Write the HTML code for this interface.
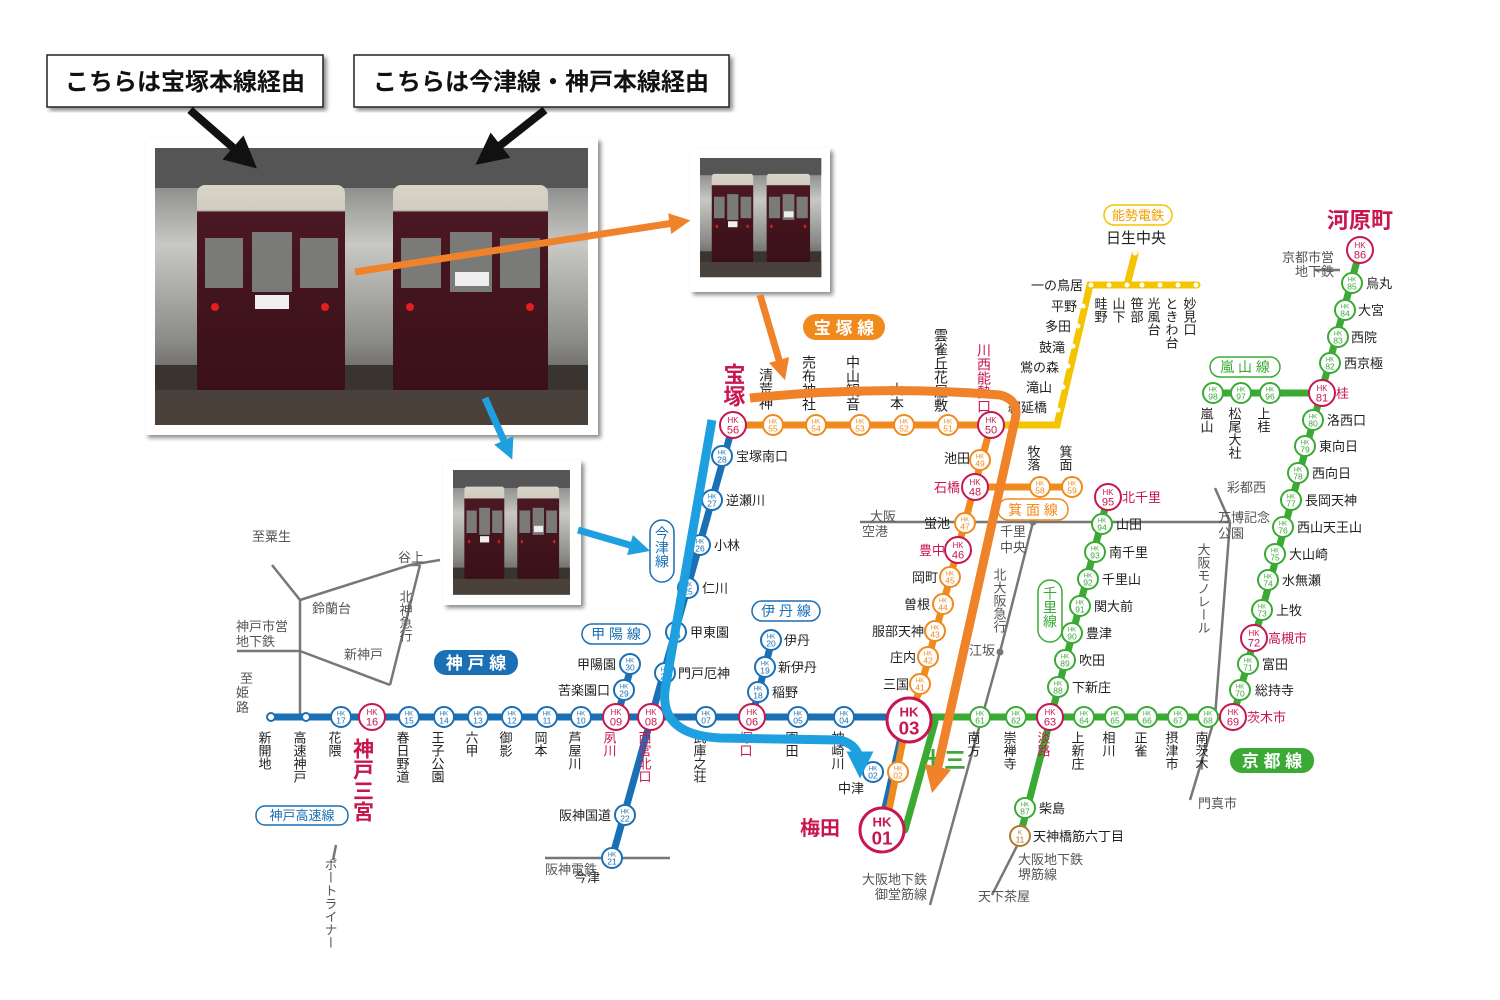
<!DOCTYPE html>
<html><head><meta charset="utf-8"><style>
html,body{margin:0;padding:0;background:#fff;width:1500px;height:1000px;overflow:hidden}
svg{display:block;font-family:"Liberation Sans","Noto Sans CJK JP",sans-serif}
.v{writing-mode:vertical-rl;text-orientation:upright}
</style></head><body>
<svg id="m" width="1500" height="1000" viewBox="0 0 1500 1000" xmlns="http://www.w3.org/2000/svg">
<defs>
<marker id="ab" markerWidth="4" markerHeight="4" refX="2" refY="2" orient="auto"><path d="M0,0L4,2L0,4z" fill="#111"/></marker>
<marker id="ao" markerWidth="3" markerHeight="3" refX="1.5" refY="1.5" orient="auto"><path d="M0,0L3,1.5L0,3z" fill="#f0822a"/></marker>
<marker id="ac" markerWidth="3" markerHeight="3" refX="1.5" refY="1.5" orient="auto"><path d="M0,0L3,1.5L0,3z" fill="#1ea0e0"/></marker>
<linearGradient id="bg" x1="0" y1="0" x2="0" y2="1"><stop offset="0" stop-color="#6a6a6a"/><stop offset=".35" stop-color="#c8c8c4"/><stop offset=".7" stop-color="#8a8a86"/><stop offset="1" stop-color="#3a3834"/></linearGradient>
<linearGradient id="tr" x1="0" y1="0" x2="0" y2="1"><stop offset="0" stop-color="#d8d4c8"/><stop offset=".12" stop-color="#d0ccc0"/><stop offset=".13" stop-color="#4a1822"/><stop offset="1" stop-color="#3a1018"/></linearGradient>
<filter id="sh"><feDropShadow dx="3" dy="3" stdDeviation="2" flood-opacity=".45"/></filter>
</defs>

<!-- label boxes -->
<rect x="47" y="55" width="276" height="52" fill="#fff" stroke="#222" stroke-width="1.5" filter="url(#sh)"/>
<text x="185" y="90" font-size="24" font-weight="bold" text-anchor="middle" fill="#111">こちらは宝塚本線経由</text>
<rect x="354" y="55" width="375" height="52" fill="#fff" stroke="#222" stroke-width="1.5" filter="url(#sh)"/>
<text x="541" y="90" font-size="24" font-weight="bold" text-anchor="middle" fill="#111">こちらは今津線・神戸本線経由</text>

<!-- gray lines -->
<g stroke="#777" stroke-width="2.5" fill="none">
<path d="M272,565L300,600L300,717"/><path d="M237,651L300,651"/><path d="M300,600L410,565L440,560"/>
<path d="M300,651L390,685"/><path d="M390,685L420,565"/><path d="M410,565L420,565"/>
<path d="M860,522L990,522L1230,522"/><path d="M1230,522L1215,717L1190,800"/><path d="M1215,488L1230,522"/>
<path d="M1033,522L1000,652L930,905"/>
<path d="M1020,840L992,895"/><path d="M1315,270L1340,270"/><path d="M336,845L333,860"/>
<path d="M545,858L670,858"/>
</g>
<circle cx="1033" cy="522" r="3.5" fill="#777"/><circle cx="1000" cy="652" r="3.5" fill="#777"/>

<!-- lines -->
<g fill="none" stroke-linecap="round">
<path d="M270,717L885,717" stroke="#1a6fb5" stroke-width="7"/>
<path d="M733,425L612,858" stroke="#1a6fb5" stroke-width="7"/>
<path d="M632,664L617,717" stroke="#1a6fb5" stroke-width="7"/>
<path d="M772,640L752,717" stroke="#1a6fb5" stroke-width="7"/>
<path d="M905,720L880,830" stroke="#1a6fb5" stroke-width="7"/>
<path d="M733,425L991,425L920,690L907,720L885,830" stroke="#f08a1c" stroke-width="7"/>
<path d="M975,487L1072,487" stroke="#f08a1c" stroke-width="7"/>
<path d="M910,717L1233,717L1360,250" stroke="#3aaa35" stroke-width="7"/>
<path d="M905,830L935,722" stroke="#3aaa35" stroke-width="7"/>
<path d="M1210,393L1322,393" stroke="#3aaa35" stroke-width="7"/>
<path d="M1108,497L1020,836" stroke="#3aaa35" stroke-width="7"/>
<path d="M995,425L1057,425L1090,285L1197,285M1127,285L1135,254" stroke="#f5c400" stroke-width="7"/>
</g>
<g fill="#fff">
<circle cx="1058" cy="410" r="2.5"/><circle cx="1063" cy="387" r="2.5"/><circle cx="1068" cy="366" r="2.5"/><circle cx="1073" cy="346" r="2.5"/><circle cx="1078" cy="326" r="2.5"/><circle cx="1083" cy="306" r="2.5"/>
<circle cx="1091" cy="285" r="2.5"/><circle cx="1109" cy="285" r="2.5"/><circle cx="1127" cy="285" r="2.5"/><circle cx="1142" cy="285" r="2.5"/><circle cx="1160" cy="285" r="2.5"/><circle cx="1178" cy="285" r="2.5"/><circle cx="1196" cy="285" r="2.5"/><circle cx="1135" cy="253" r="2.5"/>
</g>

<!-- line labels -->
<rect x="803" y="314" width="82" height="26" rx="13" fill="#f08a1c"/><text x="844" y="334" font-size="17" font-weight="bold" fill="#fff" text-anchor="middle">宝 塚 線</text>
<rect x="1104" y="205" width="68" height="20" rx="10" fill="#fff" stroke="#f5c400" stroke-width="1.5"/><text x="1138" y="220" font-size="13" fill="#f0a000" text-anchor="middle">能勢電鉄</text>
<rect x="1210" y="357" width="70" height="20" rx="10" fill="#fff" stroke="#3aaa35" stroke-width="1.5"/><text x="1245" y="372" font-size="14" fill="#3aaa35" text-anchor="middle">嵐 山 線</text>
<rect x="998" y="499" width="70" height="21" rx="10" fill="#fff" stroke="#f08a1c" stroke-width="1.5"/><text x="1033" y="515" font-size="14" fill="#f08a1c" text-anchor="middle">箕 面 線</text>
<rect x="1038" y="580" width="24" height="62" rx="12" fill="#fff" stroke="#3aaa35" stroke-width="1.5"/><text x="1050" y="586" font-size="14" fill="#3aaa35" class="v">千里線</text>
<rect x="1230" y="748" width="84" height="25" rx="12" fill="#3aaa35"/><text x="1272" y="767" font-size="17" font-weight="bold" fill="#fff" text-anchor="middle">京 都 線</text>
<rect x="434" y="650" width="84" height="25" rx="12" fill="#1a6fb5"/><text x="476" y="669" font-size="17" font-weight="bold" fill="#fff" text-anchor="middle">神 戸 線</text>
<rect x="582" y="624" width="68" height="20" rx="10" fill="#fff" stroke="#1a6fb5" stroke-width="1.5"/><text x="616" y="639" font-size="14" fill="#1a6fb5" text-anchor="middle">甲 陽 線</text>
<rect x="752" y="601" width="68" height="20" rx="10" fill="#fff" stroke="#1a6fb5" stroke-width="1.5"/><text x="786" y="616" font-size="14" fill="#1a6fb5" text-anchor="middle">伊 丹 線</text>
<rect x="650" y="520" width="24" height="62" rx="12" fill="#fff" stroke="#1a6fb5" stroke-width="1.5"/><text x="662" y="526" font-size="14" fill="#1a6fb5" class="v">今津線</text>
<rect x="256" y="806" width="92" height="19" rx="9" fill="#fff" stroke="#1a6fb5" stroke-width="1.5"/><text x="302" y="820" font-size="13" fill="#1a6fb5" text-anchor="middle">神戸高速線</text>

<g id="st"></g><g id="lb"></g>

<!-- photos -->
<g filter="url(#sh)">
<rect x="145" y="138" width="453" height="297" fill="#fff"/>
<rect x="690" y="148" width="140" height="144" fill="#fff"/>
<rect x="443" y="460" width="138" height="145" fill="#fff"/>
</g>
<g id="p1">
<rect x="155" y="148" width="433" height="277" fill="url(#bg)"/>
<rect x="155" y="148" width="433" height="40" fill="#555"/>
<rect x="155" y="365" width="433" height="60" fill="#3a3430"/>
<rect x="197" y="185" width="148" height="210" rx="8" fill="url(#tr)"/>
<rect x="393" y="185" width="155" height="210" rx="8" fill="url(#tr)"/>
<g fill="#7a7a78"><rect x="205" y="238" width="38" height="50"/><rect x="252" y="232" width="40" height="60"/><rect x="300" y="238" width="38" height="50"/>
<rect x="401" y="238" width="40" height="50"/><rect x="450" y="232" width="42" height="60"/><rect x="500" y="238" width="40" height="50"/></g>
<rect x="255" y="295" width="34" height="14" fill="#eee"/><rect x="455" y="272" width="34" height="14" fill="#eee"/>
<g fill="#e02020"><circle cx="215" cy="307" r="4"/><circle cx="325" cy="307" r="4"/><circle cx="410" cy="307" r="4"/><circle cx="530" cy="307" r="4"/></g>
<rect x="155" y="390" width="433" height="35" fill="#4a423a"/>
</g>
<g transform="translate(700,158) scale(0.28,0.43) translate(-155,-148)"><use href="#p1"/></g>
<g transform="translate(453,470) scale(0.27,0.45) translate(-155,-148)"><use href="#p1"/></g>

<!-- arrows -->
<line x1="190" y1="110" x2="245" y2="158" stroke="#111" stroke-width="8" marker-end="url(#ab)"/>
<line x1="545" y1="110" x2="488" y2="155" stroke="#111" stroke-width="8" marker-end="url(#ab)"/>
<g fill="none" stroke-width="7">
<line x1="355" y1="272" x2="680" y2="222" stroke="#f0822a" marker-end="url(#ao)"/>
<line x1="760" y1="295" x2="782" y2="370" stroke="#f0822a" marker-end="url(#ao)"/>
<line x1="485" y1="398" x2="508" y2="450" stroke="#1ea0e0" marker-end="url(#ac)"/>
<line x1="578" y1="530" x2="640" y2="548" stroke="#1ea0e0" marker-end="url(#ac)"/>
<path d="M750,398Q880,385 1000,395Q1020,400 1015,420L935,780" stroke="#f0822a" stroke-width="9" marker-end="url(#ao)"/>
<path d="M712,420L665,690Q660,735 720,738L840,740Q860,745 860,765" stroke="#1ea0e0" stroke-width="9" marker-end="url(#ac)"/>
</g>
</svg>
<script>
const NS="http://www.w3.org/2000/svg",B="#1a6fb5",O="#f08a1c",G="#3aaa35",R="#c8174f";
function el(p,t,a,txt){const e=document.createElementNS(NS,t);for(const k in a)e.setAttribute(k,a[k]);if(txt!=null)e.textContent=txt;p.appendChild(e);return e}
const st=document.getElementById('st'),lb=document.getElementById('lb');
function S(x,y,n,c,big,pre){const r=big?(big>1?22:13):10,col=big?R:c;el(st,'circle',{cx:x,cy:y,r:r,fill:'#fff',stroke:col,'stroke-width':big>1?3:2});
el(st,'text',{x:x,y:y-r*0.15,'font-size':r*0.6,'text-anchor':'middle',fill:col,'font-weight':big>1?'bold':'normal'},pre||'HK');
el(st,'text',{x:x,y:y+r*0.65,'font-size':r*0.85,'text-anchor':'middle',fill:col,'font-weight':big>1?'bold':'normal'},n)}
[[341,17],[372,16,1],[409,15],[444,14],[478,13],[512,12],[547,11],[581,10],[616,'09',1],[651,'08',1],[706,'07'],[752,'06',1],[798,'05'],[844,'04']].forEach(a=>S(a[0],717,a[1],B,a[2]));
el(st,'circle',{cx:271,cy:717,r:4,fill:'#fff',stroke:B,'stroke-width':2});el(st,'circle',{cx:306,cy:717,r:4,fill:'#fff',stroke:B,'stroke-width':2});
S(909,720,'03',R,2);S(882,830,'01',R,2);S(873,772,'02',B);S(898,772,'02',O);
[[980,61],[1016,62],[1050,63,1],[1084,64],[1115,65],[1147,66],[1178,67],[1208,68],[1233,69,1]].forEach(a=>S(a[0],717,a[1],G,a[2]));
[[1240,690,70],[1248,664,71],[1254,638,72,1],[1262,610,73],[1268,580,74],[1275,554,75],[1283,527,76],[1291,500,77],[1298,473,78],[1305,446,79],[1313,420,80],[1322,393,81,1],[1330,363,82],[1338,337,83],[1345,310,84],[1352,283,85],[1360,250,86,1],
[1213,393,98],[1241,393,97],[1270,393,96],[1058,687,88],[1065,660,89],[1072,633,90],[1080,606,91],[1088,579,92],[1095,552,93],[1102,524,94],[1108,497,95,1],[1025,808,87]].forEach(a=>S(a[0],a[1],a[2],G,a[3]));
S(1020,836,'11','#b07a30',0,'K');
S(733,425,56,O,1);[[773,55],[816,54],[860,53],[904,52],[948,51]].forEach(a=>S(a[0],425,a[1],O));S(991,425,50,O,1);
[[980,460,49],[975,487,48,1],[965,523,47],[958,550,46,1],[950,577,45],[943,604,44],[935,631,43],[928,657,42],[920,684,41],[1040,487,58],[1072,487,59]].forEach(a=>S(a[0],a[1],a[2],O,a[3]));
[[722,456,28],[712,500,27],[700,545,26],[688,588,25],[676,632,24],[665,673,23],[625,815,22],[612,858,21],[630,664,30],[624,690,29],[771,640,20],[765,667,19],[758,692,18]].forEach(a=>S(a[0],a[1],a[2],B));
function L(x,y,t,o){o=o||{};const a={x:x,y:y,'font-size':o.s||13,fill:o.c||'#222','text-anchor':o.a||'start'};if(o.b)a['font-weight']='bold';if(o.v)a['class']='v';el(lb,'text',a,t)}
[[271,'新開地'],[306,'高速神戸'],[341,'花隈'],[409,'春日野道'],[444,'王子公園'],[478,'六甲'],[512,'御影'],[547,'岡本'],[581,'芦屋川'],[706,'武庫之荘'],[798,'園田'],[844,'神崎川']].forEach(a=>L(a[0]-7,731,a[1],{v:1}));
L(362,738,'神戸三宮',{v:1,s:21,c:R,b:1});L(609,731,'夙川',{v:1,c:R});L(644,731,'西宮北口',{v:1,c:R});L(745,731,'塚口',{v:1,c:R});
[[980,'南方'],[1016,'崇禅寺'],[1084,'上新庄'],[1115,'相川'],[1147,'正雀'],[1178,'摂津市'],[1208,'南茨木']].forEach(a=>L(a[0]-7,731,a[1],{v:1}));
L(1043,731,'淡路',{v:1,c:R});L(1247,722,'茨木市',{c:R});L(922,768,'十三',{s:22,c:G,b:1});L(800,835,'梅田',{s:20,c:R,b:1});L(838,793,'中津');
[[1255,695,'総持寺'],[1262,669,'富田'],[1276,615,'上牧'],[1282,585,'水無瀬'],[1289,559,'大山崎'],[1297,532,'西山天王山'],[1305,505,'長岡天神'],[1312,478,'西向日'],[1319,451,'東向日'],[1327,425,'洛西口'],[1344,368,'西京極'],[1351,342,'西院'],[1358,315,'大宮'],[1366,288,'烏丸']].forEach(a=>L(a[0],a[1],a[2]));
L(1268,643,'高槻市',{c:R});L(1336,398,'桂',{c:R});L(1360,228,'河原町',{s:22,c:R,b:1,a:'middle'});
L(1206,407,'嵐山',{v:1});L(1234,407,'松尾大社',{v:1});L(1263,407,'上桂',{v:1});
[[1072,692,'下新庄'],[1079,665,'吹田'],[1086,638,'豊津'],[1094,611,'関大前'],[1102,584,'千里山'],[1109,557,'南千里'],[1116,529,'山田'],[1039,813,'柴島'],[1033,841,'天神橋筋六丁目']].forEach(a=>L(a[0],a[1],a[2]));
L(1122,502,'北千里',{c:R});
L(733,385,'宝塚',{v:1,s:22,c:R,b:1,a:'middle'});
[[773,'清荒神',368],[816,'売布神社',355],[860,'中山観音',355],[904,'山本',382],[948,'雲雀丘花屋敷',328]].forEach(a=>L(a[0]-7,a[2],a[1],{v:1,s:14}));
L(984,343,'川西能勢口',{v:1,s:14,c:R});
L(970,463,'池田',{a:'end'});L(960,492,'石橋',{a:'end',c:R});L(950,528,'蛍池',{a:'end'});L(945,555,'豊中',{a:'end',c:R});L(938,582,'岡町',{a:'end'});L(930,609,'曽根',{a:'end'});L(924,636,'服部天神',{a:'end'});L(916,662,'庄内',{a:'end'});L(909,689,'三国',{a:'end'});
L(1033,445,'牧落',{v:1});L(1065,445,'箕面',{v:1});
[[1083,290,'一の鳥居'],[1077,311,'平野'],[1071,331,'多田'],[1065,352,'鼓滝'],[1059,372,'鴬の森'],[1052,392,'滝山'],[1047,412,'絹延橋']].forEach(a=>L(a[0],a[1],a[2],{a:'end'}));
L(1136,243,'日生中央',{s:15,a:'middle'});
[[1107,'畦野'],[1125,'山下'],[1143,'笹部'],[1160,'光風台'],[1178,'ときわ台'],[1196,'妙見口']].forEach(a=>L(a[0]-7,297,a[1],{v:1}));
[[736,461,'宝塚南口'],[726,505,'逆瀬川'],[714,550,'小林'],[702,593,'仁川'],[690,637,'甲東園'],[678,678,'門戸厄神'],[784,645,'伊丹'],[778,672,'新伊丹'],[772,697,'稲野']].forEach(a=>L(a[0],a[1],a[2]));
L(616,669,'甲陽園',{a:'end'});L(610,695,'苦楽園口',{a:'end'});L(611,820,'阪神国道',{a:'end'});L(600,882,'今津',{a:'end'});L(545,874,'阪神電鉄',{c:'#555'});
var g='#555';
L(252,541,'至粟生',{c:g});L(236,631,'神戸市営',{c:g});L(236,646,'地下鉄',{c:g});L(240,683,'至',{c:g});L(236,697,'姫',{c:g});L(236,712,'路',{c:g});
L(398,562,'谷上',{c:g});L(312,613,'鈴蘭台',{c:g});L(344,659,'新神戸',{c:g});L(405,590,'北神急行',{v:1,c:g});
L(870,521,'大阪',{c:g});L(862,536,'空港',{c:g});L(1000,536,'千里',{c:g});L(1000,552,'中央',{c:g});L(999,568,'北大阪急行',{v:1,c:g});L(969,655,'江坂',{c:g});
L(1227,492,'彩都西',{c:g});L(1218,522,'万博記念',{c:g});L(1218,538,'公園',{c:g});L(1203,543,'大阪モノレール',{v:1,c:g});L(1198,808,'門真市',{c:g});
L(1282,262,'京都市営',{c:g});L(1295,276,'地下鉄',{c:g});
L(927,884,'大阪地下鉄',{c:g,a:'end'});L(927,899,'御堂筋線',{c:g,a:'end'});L(1018,864,'大阪地下鉄',{c:g});L(1018,879,'堺筋線',{c:g});L(978,901,'天下茶屋',{c:g});
L(330,858,'ポートライナー',{v:1,c:g});
</script>
</body></html>
